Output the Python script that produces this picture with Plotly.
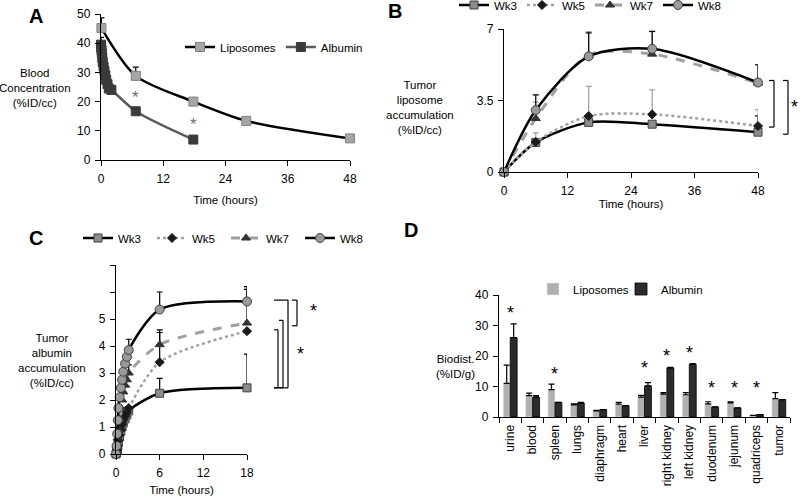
import plotly.graph_objects as go

W, H = 800, 498
FONT = "Arial, Liberation Sans, sans-serif"

# ---------------- Panel A data ----------------
a_lipo_t = [0.08, 6.7, 17.8, 28, 48]
a_lipo_v = [45.2, 28.8, 20.0, 13.4, 7.4]
a_lipo_err = [3.5, 3.0, 0, 0, 0]
a_alb_t = [0.0, 0.05, 0.1, 0.17, 0.25, 0.33, 0.5, 0.67, 0.83, 1.0, 1.25, 1.5, 2.0, 6.7, 17.8]
a_alb_v = [39.5, 38.5, 37.5, 36.5, 35.0, 33.5, 32.0, 30.5, 29.0, 27.5, 26.0, 24.5, 24.0, 16.7, 7.0]
a_alb_err = [2.5, 2.0, 1.5, 1.0, 0.5, 0, 0, 0, 0, 0, 0, 0, 0, 0, 0]
a_star_t = [6.7, 17.8]
a_star_v = [21.5, 12.0]

# ---------------- Panel B data ----------------
b_t = [0, 6, 16, 28, 48]
b_wk3 = [0, 1.45, 2.43, 2.34, 1.95]
b_wk5 = [0, 1.47, 2.74, 2.82, 2.25]
b_wk7 = [0, 2.62, 5.72, 5.77, 4.35]
b_wk8 = [0, 3.03, 5.66, 6.03, 4.38]
b_wk3_err = [0, 0, 0, 0, 0.8]
b_wk5_err = [0, 0.45, 1.45, 1.2, 0.8]
b_wk7_err = [0, 0.8, 1.15, 1.1, 0.9]
b_wk8_err = [0, 0.75, 1.15, 0.85, 0.87]

# ---------------- Panel C data ----------------
c_t = [0, 0.08, 0.17, 0.25, 0.33, 0.5, 0.67, 0.83, 1.0, 1.25, 1.5, 1.75, 6, 18]
c_wk3 = [0, 0.05, 0.15, 0.3, 0.45, 0.65, 0.85, 1.0, 1.15, 1.3, 1.45, 1.6, 2.25, 2.45]
c_wk5 = [0, 0.05, 0.15, 0.3, 0.5, 0.7, 0.9, 1.1, 1.25, 1.4, 1.55, 1.7, 3.4, 4.55]
c_wk7 = [0, 0.1, 0.3, 0.6, 0.9, 1.3, 1.7, 2.0, 2.3, 2.55, 2.75, 3.0, 4.05, 4.85]
c_wk8 = [0, 0.3, 0.75, 1.25, 1.7, 2.1, 2.45, 2.75, 3.05, 3.35, 3.6, 3.85, 5.35, 5.65]
c_wk3_err = [0] * 12 + [0.55, 1.25]
c_wk5_err = [0] * 12 + [1.1, 0]
c_wk7_err = [0] * 11 + [0.3, 0.55, 1.25]
c_wk8_err = [0] * 11 + [0.4, 0.65, 0.55]
c_yticks = [0, 1, 2, 3, 4, 5, 6, 7]
c_yticktext = ["0", "1", "2", "3", "4", "5", "", ""]

# ---------------- Panel D data ----------------
d_organs = ["urine", "blood", "spleen", "lungs", "diaphragm", "heart", "liver",
            "right kidney", "left kidney", "duodenum", "jejunum", "quadriceps", "tumor"]
d_lipo = [11.0, 7.0, 9.0, 4.0, 2.0, 4.2, 6.5, 7.5, 7.3, 4.3, 4.6, 0.5, 6.0]
d_lipo_err = [6.0, 0.8, 1.8, 0.3, 0.2, 0.6, 0.6, 0.5, 0.7, 0.7, 0.4, 0.0, 2.0]
d_alb = [26.0, 6.5, 4.8, 4.6, 2.4, 3.7, 10.2, 16.1, 17.3, 3.3, 3.0, 0.8, 5.7]
d_alb_err = [4.5, 0.5, 0.0, 0.2, 0.0, 0.0, 1.1, 0.2, 0.2, 0.0, 0.0, 0.0, 0.0]
d_star_organs = ["urine", "spleen", "liver", "right kidney", "left kidney",
                 "duodenum", "jejunum", "quadriceps"]
d_star_v = [34.0, 14.0, 16.0, 20.0, 21.0, 9.5, 9.5, 9.5]


def px(x):
    return x / W


def py(y):
    return 1 - y / H


fig = go.Figure()


def errs(arr, col="black"):
    return dict(type="data", symmetric=False, array=arr, arrayminus=[0] * len(arr),
                color=col, thickness=1.2, width=3)


# ---- Panel A traces ----
fig.add_trace(go.Scatter(
    x=a_lipo_t, y=a_lipo_v, name="Liposomes", mode="lines+markers",
    line=dict(color="black", width=2.5, shape="spline", smoothing=0.8),
    marker=dict(symbol="square", size=9, color="#a6a6a6", line=dict(color="#808080", width=1)),
    error_y=errs(a_lipo_err), xaxis="x", yaxis="y", legend="legend", cliponaxis=False))
fig.add_trace(go.Scatter(
    x=a_alb_t, y=a_alb_v, name="Albumin", mode="lines+markers",
    line=dict(color="#595959", width=2.5, shape="spline", smoothing=0.8),
    marker=dict(symbol="square", size=9, color="#3a3a3a", line=dict(color="#3a3a3a", width=1)),
    error_y=errs(a_alb_err), xaxis="x", yaxis="y", legend="legend", cliponaxis=False))

# ---- Panel B traces ----
wk_styles = {
    "Wk3": dict(line=dict(color="black", width=2.5, shape="spline", smoothing=0.8),
                marker=dict(symbol="square", size=8, color="#8c8c8c", line=dict(color="#404040", width=1))),
    "Wk5": dict(line=dict(color="#a0a0a0", width=2.5, dash="dot", shape="spline", smoothing=0.8),
                marker=dict(symbol="diamond", size=7, color="#1a1a1a", line=dict(color="#1a1a1a", width=1))),
    "Wk7": dict(line=dict(color="#a0a0a0", width=3, dash="dash", shape="spline", smoothing=0.8),
                marker=dict(symbol="triangle-up", size=8, color="#333333", line=dict(color="#333333", width=1))),
    "Wk8": dict(line=dict(color="black", width=2.5, shape="spline", smoothing=0.8),
                marker=dict(symbol="circle", size=9, color="#9a9a9a", line=dict(color="#404040", width=1))),
}
b_series = [("Wk3", b_wk3, b_wk3_err, "black"), ("Wk5", b_wk5, b_wk5_err, "#a0a0a0"),
            ("Wk7", b_wk7, b_wk7_err, "#a0a0a0"), ("Wk8", b_wk8, b_wk8_err, "black")]
for name, vals, er, ec in b_series:
    fig.add_trace(go.Scatter(x=b_t, y=vals, name=name, mode="lines+markers",
                             error_y=errs(er, ec), xaxis="x2", yaxis="y2",
                             legend="legend2", cliponaxis=False, **wk_styles[name]))

# ---- Panel C traces ----
c_series = [("Wk3", c_wk3, c_wk3_err), ("Wk5", c_wk5, c_wk5_err),
            ("Wk7", c_wk7, c_wk7_err), ("Wk8", c_wk8, c_wk8_err)]
for name, vals, er in c_series:
    fig.add_trace(go.Scatter(x=c_t, y=vals, name=name, mode="lines+markers",
                             error_y=errs(er), xaxis="x3", yaxis="y3",
                             legend="legend3", cliponaxis=False, **wk_styles[name]))

# ---- Panel D traces ----
fig.add_trace(go.Bar(x=d_organs, y=d_lipo, name="Liposomes", marker=dict(color="#b0b0b0"),
                     error_y=errs(d_lipo_err), xaxis="x4", yaxis="y4", legend="legend4"))
fig.add_trace(go.Bar(x=d_organs, y=d_alb, name="Albumin",
                     marker=dict(color="#2b2b2b", line=dict(color="black", width=0.8)),
                     error_y=errs(d_alb_err), xaxis="x4", yaxis="y4", legend="legend4"))

axis_common = dict(showline=True, linecolor="black", linewidth=1.3, ticks="outside",
                   ticklen=5, tickwidth=1.2, tickcolor="black", showgrid=False, zeroline=False,
                   ticklabelstandoff=2,
                   tickfont=dict(family=FONT, size=12, color="black"))
title_font = dict(family=FONT, size=11.5, color="black")
leg_common = dict(orientation="h", xanchor="left", yanchor="middle",
                  bgcolor="rgba(0,0,0,0)", font=dict(size=11.5, family=FONT))

fig.update_layout(
    width=W, height=H, margin=dict(l=0, r=0, t=0, b=0, autoexpand=False),
    paper_bgcolor="white", plot_bgcolor="white",
    font=dict(family=FONT, size=11.5, color="black"),
    barmode="group", bargap=0.38, bargroupgap=0.0,
    xaxis=dict(domain=[px(101), px(350)], range=[0, 48], tickvals=[0, 12, 24, 36, 48],
               anchor="y", title=dict(text="Time (hours)", standoff=11, font=title_font),
               **axis_common),
    yaxis=dict(domain=[py(160), py(14)], range=[0, 50], tickvals=[0, 10, 20, 30, 40, 50],
               anchor="x", **axis_common),
    xaxis2=dict(domain=[px(504), px(758)], range=[0, 48], tickvals=[0, 12, 24, 36, 48],
                anchor="y2", title=dict(text="Time (hours)", standoff=0, font=title_font),
                **axis_common),
    yaxis2=dict(domain=[py(172), py(29)], range=[0, 7], tickvals=[0, 3.5, 7],
                anchor="x2", **axis_common),
    xaxis3=dict(domain=[px(116), px(247)], range=[0, 18], tickvals=[0, 6, 12, 18],
                anchor="y3", title=dict(text="Time (hours)", standoff=7, font=title_font),
                **axis_common),
    yaxis3=dict(domain=[py(454), py(265)], range=[0, 7], tickvals=c_yticks,
                ticktext=c_yticktext, anchor="x3", **axis_common),
    xaxis4=dict(domain=[px(499), px(790)], type="category", tickangle=-90,
                tickson="boundaries", anchor="y4", **axis_common),
    yaxis4=dict(domain=[py(417), py(295)], range=[0, 40], tickvals=[0, 10, 20, 30, 40],
                anchor="x4", **axis_common),
    legend=dict(x=px(180), y=py(47), **leg_common),
    legend2=dict(x=px(454), y=py(5), **leg_common),
    legend3=dict(x=px(78), y=py(238), entrywidth=29, **leg_common),
    legend4=dict(x=px(533), y=py(289), entrywidth=43, **leg_common),
    showlegend=True,
)

ann = []
# Panel letters
for letter, x, y in [("A", 36, 16), ("B", 395, 11), ("C", 36, 238), ("D", 411, 230)]:
    ann.append(dict(text="<b>" + letter + "</b>", x=px(x), y=py(y), xref="paper", yref="paper",
                    showarrow=False, font=dict(size=20, family=FONT, color="black"),
                    xanchor="center", yanchor="middle"))
# Y titles
for txt, x, y in [("Blood<br>Concentration<br>(%ID/cc)", 35, 88),
                  ("Tumor<br>liposome<br>accumulation<br>(%ID/cc)", 420, 107),
                  ("Tumor<br>albumin<br>accumulation<br>(%ID/cc)", 52, 360),
                  ("Biodist.<br>(%ID/g)", 456, 366)]:
    ann.append(dict(text=txt, x=px(x), y=py(y), xref="paper", yref="paper",
                    showarrow=False, font=dict(size=11.5, family=FONT, color="black"),
                    xanchor="center", yanchor="middle", align="center"))
# Stars A
for t, v in zip(a_star_t, a_star_v):
    ann.append(dict(text="*", x=t, y=v, xref="x", yref="y", showarrow=False,
                    font=dict(size=17, family=FONT, color="#707070"), yanchor="middle"))
# Stars D
for o, v in zip(d_star_organs, d_star_v):
    ann.append(dict(text="*", x=o, y=v, xref="x4", yref="y4", showarrow=False,
                    font=dict(size=18, family=FONT, color="black"), yanchor="middle"))
# Stars B, C
ann.append(dict(text="*", x=1.0, y=(b_wk8[-1] + b_wk3[-1]) / 2, xref="paper", yref="y2",
                xanchor="right", showarrow=False, font=dict(size=18, family=FONT, color="black")))
ann.append(dict(text="*", x=px(313), y=(c_wk8[-1] + c_wk7[-1]) / 2 + 0.05, xref="paper", yref="y3",
                showarrow=False, font=dict(size=18, family=FONT, color="black")))
ann.append(dict(text="*", x=px(300), y=3.7, xref="paper", yref="y3",
                showarrow=False, font=dict(size=18, family=FONT, color="black")))
fig.update_layout(annotations=ann)

# Significance brackets
shapes = []


def bracket(xp, top, bottom, yref, stub=5):
    pts = [(xp - stub, top), (xp, top), (xp, bottom), (xp - stub, bottom)]
    out = []
    for (x0, y0), (x1, y1) in zip(pts[:-1], pts[1:]):
        out.append(dict(type="line", xref="paper", yref=yref, x0=px(x0), x1=px(x1),
                        y0=y0, y1=y1, line=dict(color="black", width=1.2)))
    return out


shapes += bracket(774, b_wk8[-1] + 0.1, b_wk5[-1] - 0.05, "y2")
shapes += bracket(788, b_wk8[-1] + 0.1, b_wk3[-1] - 0.1, "y2")
shapes += bracket(278, c_wk5[-1] + 0.05, c_wk3[-1], "y3", stub=4)
shapes += bracket(283, c_wk7[-1] + 0.1, c_wk3[-1], "y3", stub=4)
shapes += bracket(288, c_wk8[-1] + 0.05, c_wk3[-1], "y3", stub=14)
shapes += bracket(297, c_wk8[-1] + 0.05, c_wk7[-1] - 0.1, "y3", stub=5)
fig.update_layout(shapes=shapes)

fig.write_html("out.html", config={"displayModeBar": False},
               post_script="document.body.style.margin='0px';")
